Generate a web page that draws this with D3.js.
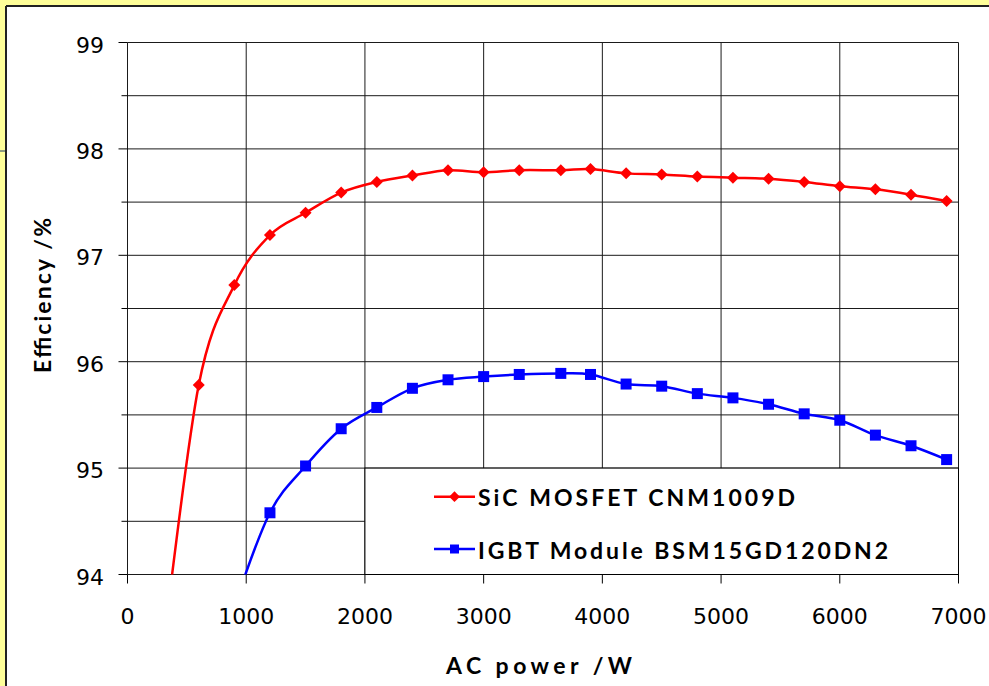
<html>
<head>
  <title>Efficiency vs AC power</title>
  <script src="https://d3js.org/d3.v7.min.js"></script>
  <style>
    body { margin: 0; background: #ffff99; }
  </style>
</head>
<body>
  <script>
    var w = 989;
    var h = 686;

    // data (first point of each series lies below the 94 % floor)
    var sicPower = [300, 600, 900, 1200, 1500, 1800, 2100, 2400, 2700, 3000, 3300, 3650, 3900,
                    4200, 4500, 4800, 5100, 5400, 5700, 6000, 6300, 6600, 6900];
    var sicEff = [93.3, 95.78, 96.72, 97.19, 97.40, 97.59, 97.69, 97.75, 97.80, 97.78, 97.80, 97.80, 97.81,
                  97.77, 97.76, 97.74, 97.73, 97.72, 97.69, 97.65, 97.62, 97.57, 97.51];
    var igbtPower = [900, 1200, 1500, 1800, 2100, 2400, 2700, 3000, 3300, 3650, 3900,
                     4200, 4500, 4800, 5100, 5400, 5700, 6000, 6300, 6600, 6900];
    var igbtEff = [93.7, 94.58, 95.02, 95.37, 95.57, 95.75, 95.83, 95.86, 95.88, 95.89, 95.88,
                   95.79, 95.77, 95.70, 95.66, 95.60, 95.51, 95.45, 95.31, 95.21, 95.08];
    var xTicks = [0, 1000, 2000, 3000, 4000, 5000, 6000, 7000];
    var yTicks = [94, 95, 96, 97, 98, 99];
    var yMinor = [94.5, 95.5, 96.5, 97.5, 98.5];
    var seriesNames = ["SiC MOSFET CNM1009D", "IGBT Module BSM15GD120DN2"];

    // plot area edges (window.top is read-only, hence the p prefix)
    var pLeft = 127.5, pRight = 958.5, pTop = 42.5, pBottom = 574.5;
    var x = d3.scaleLinear().domain([0, 7000]).range([pLeft, pRight]);
    var y = d3.scaleLinear().domain([94, 99]).range([pBottom, pTop]);

    var svg = d3.select("body").append("svg").attr("width", w).attr("height", h)
      .style("display", "block");

    // yellow frame and white sheet
    svg.append("rect").attr("width", w).attr("height", h).attr("fill", "#ffff99");
    svg.append("rect").attr("x", 6).attr("y", 6).attr("width", w).attr("height", h).attr("fill", "#fff");
    svg.append("line").attr("x1", 6).attr("y1", 6).attr("x2", w).attr("y2", 6)
      .attr("stroke", "#222").attr("stroke-width", 2);
    svg.append("line").attr("x1", 6).attr("y1", 6).attr("x2", 6).attr("y2", h)
      .attr("stroke", "#222").attr("stroke-width", 2);
    svg.append("line").attr("x1", 0).attr("y1", 151).attr("x2", 5).attr("y2", 151)
      .attr("stroke", "#203864").attr("stroke-width", 1);

    // grid
    svg.selectAll(".hgrid").data(yMinor.concat(yTicks)).enter().append("line")
      .attr("x1", pLeft).attr("x2", pRight)
      .attr("y1", function(d){return y(d);}).attr("y2", function(d){return y(d);})
      .attr("stroke", "#1a1a1a").attr("stroke-width", 1);
    svg.selectAll(".vgrid").data(xTicks).enter().append("line")
      .attr("x1", function(d){return x(d);}).attr("x2", function(d){return x(d);})
      .attr("y1", pTop).attr("y2", pBottom)
      .attr("stroke", "#1a1a1a").attr("stroke-width", 1);

    // y ticks
    svg.selectAll(".ytick").data(yTicks).enter().append("line")
      .attr("x1", pLeft - 9).attr("x2", pLeft)
      .attr("y1", function(d){return y(d);}).attr("y2", function(d){return y(d);})
      .attr("stroke", "#000");
    svg.selectAll(".ymtick").data(yMinor).enter().append("line")
      .attr("x1", pLeft - 6).attr("x2", pLeft)
      .attr("y1", function(d){return y(d);}).attr("y2", function(d){return y(d);})
      .attr("stroke", "#000");
    svg.selectAll(".ylab").data(yTicks).enter().append("text")
      .attr("x", 104).attr("y", function(d){return y(d) + 10;})
      .attr("text-anchor", "end").attr("font-family", "DejaVu Sans").attr("font-size", 22)
      .attr("fill", "#000").text(function(d){return d;});

    // x ticks
    svg.selectAll(".xtick").data(xTicks).enter().append("line")
      .attr("x1", function(d){return x(d);}).attr("x2", function(d){return x(d);})
      .attr("y1", pBottom).attr("y2", pBottom + 9)
      .attr("stroke", "#000");
    svg.selectAll(".xlab").data(xTicks).enter().append("text")
      .attr("x", function(d){return x(d);}).attr("y", 624)
      .attr("text-anchor", "middle").attr("font-family", "DejaVu Sans").attr("font-size", 22)
      .attr("fill", "#000").text(function(d){return d;});

    // axis titles
    svg.append("text").attr("x", 446).attr("y", 673.5)
      .attr("font-family", "Lato").attr("font-weight", "bold").attr("font-size", 23)
      .attr("textLength", 186).attr("lengthAdjust", "spacing")
      .text("AC power /W");
    svg.append("text").attr("transform", "translate(51,373) rotate(-90)")
      .attr("font-family", "Lato").attr("font-weight", "bold").attr("font-size", 23)
      .attr("textLength", 155).attr("lengthAdjust", "spacing")
      .text("Efficiency /%");

    // series
    svg.append("clipPath").attr("id", "plot").append("rect")
      .attr("x", pLeft).attr("y", pTop).attr("width", pRight - pLeft).attr("height", pBottom - pTop);
    var line = d3.line().curve(d3.curveCardinal.tension(0))
      .x(function(d){return x(d[0]);}).y(function(d){return y(d[1]);});
    var sic = d3.zip(sicPower, sicEff);
    var igbt = d3.zip(igbtPower, igbtEff);

    svg.append("path").datum(sic).attr("d", line).attr("clip-path", "url(#plot)")
      .attr("fill", "none").attr("stroke", "#ff0000").attr("stroke-width", 2.5);
    svg.append("path").datum(igbt).attr("d", line).attr("clip-path", "url(#plot)")
      .attr("fill", "none").attr("stroke", "#0000ff").attr("stroke-width", 2.5);

    var diamond = "M0,-6L6,0L0,6L-6,0Z";
    var square = "M-5.5,-5.5H5.5V5.5H-5.5Z";
    svg.selectAll(".sicpt").data(sic.filter(function(d){return d[1] >= 94;})).enter().append("path")
      .attr("d", diamond).attr("fill", "#ff0000")
      .attr("transform", function(d){return "translate(" + x(d[0]) + "," + y(d[1]) + ")";});
    svg.selectAll(".igbtpt").data(igbt.filter(function(d){return d[1] >= 94;})).enter().append("path")
      .attr("d", square).attr("fill", "#0000ff")
      .attr("transform", function(d){return "translate(" + x(d[0]) + "," + y(d[1]) + ")";});

    // legend
    svg.append("rect").attr("x", x(2000)).attr("y", y(95))
      .attr("width", x(7000) - x(2000)).attr("height", y(94) - y(95))
      .attr("fill", "#fff").attr("stroke", "#000").attr("stroke-width", 1);
    var legY = [496.7, 549];
    var legColors = ["#ff0000", "#0000ff"];
    var legShapes = [diamond, "M-5,-5H5V5H-5Z"];
    var legLen = [317, 410];
    var leg = svg.selectAll(".leg").data(seriesNames).enter().append("g")
      .attr("transform", function(d, i){return "translate(0," + legY[i] + ")";});
    leg.append("line").attr("x1", 434).attr("x2", 475)
      .attr("stroke", function(d, i){return legColors[i];}).attr("stroke-width", 2.5);
    leg.append("path").attr("d", function(d, i){return legShapes[i];})
      .attr("transform", "translate(454.5,0) scale(0.9)")
      .attr("fill", function(d, i){return legColors[i];});
    leg.append("text").attr("x", 478).attr("y", 9.7)
      .attr("font-family", "Lato").attr("font-weight", "bold").attr("font-size", 23)
      .attr("textLength", function(d, i){return legLen[i];}).attr("lengthAdjust", "spacing")
      .text(function(d){return d;});
  </script>
</body>
</html>
